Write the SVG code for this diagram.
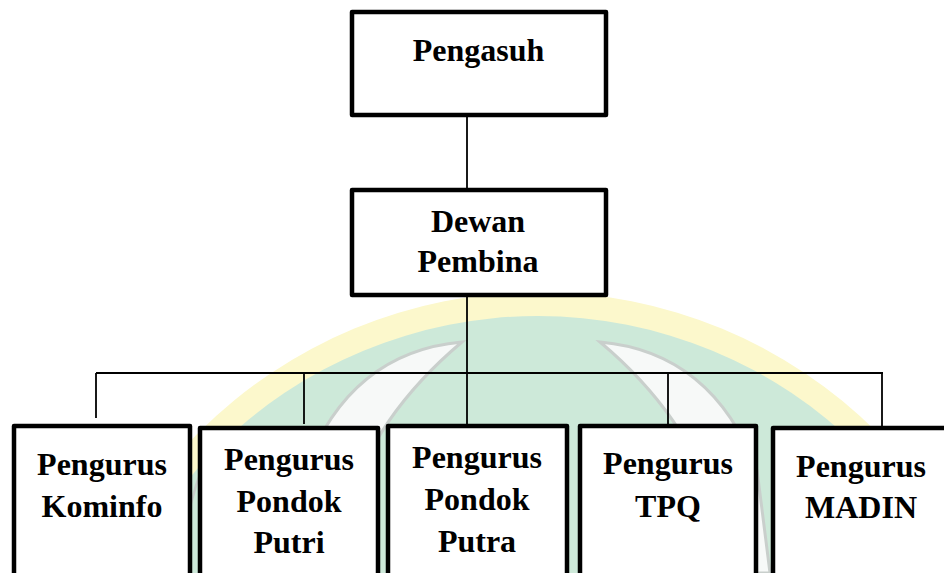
<svg xmlns="http://www.w3.org/2000/svg" width="944" height="573" viewBox="0 0 944 573">
<style>
.box{fill:#ffffff;stroke:#000000;stroke-width:4.5;stroke-linejoin:round}
.lbl{font-family:"Liberation Serif","Times New Roman",serif;font-weight:bold;font-size:32px;fill:#000000;text-anchor:middle}
.con{stroke:#000000;stroke-width:1.8;fill:none}
</style>
<rect x="0" y="0" width="944" height="573" fill="#ffffff"/>
<g id="watermark">
<circle cx="538" cy="772" r="480" fill="#fcf8cc"/>
<circle cx="538" cy="772" r="456" fill="#cde9d9"/>
<path d="M 462 342 Q 350 352 305 470 L 292 573 L 335 573 Q 345 440 462 342 Z" fill="#f7f9f8" stroke="#c9cfcc" stroke-width="3"/>
<path d="M 600 342 Q 712 352 757 470 L 770 573 L 727 573 Q 717 440 600 342 Z" fill="#f7f9f8" stroke="#c9cfcc" stroke-width="3"/>
<path d="M 205 460 A 436 436 0 0 0 178 573" fill="none" stroke="#c9cfcc" stroke-width="2.5"/>
<path d="M 902 460 A 436 436 0 0 1 932 573" fill="none" stroke="#c9cfcc" stroke-width="2.5"/>
</g>
<g id="connectors">
<line class="con" x1="467" y1="117" x2="467" y2="189"/>
<line class="con" x1="467" y1="297" x2="467" y2="425"/>
<line class="con" x1="96" y1="373" x2="883" y2="373"/>
<line class="con" x1="96" y1="373" x2="96" y2="418"/>
<line class="con" x1="304" y1="373" x2="304" y2="424"/>
<line class="con" x1="668" y1="373" x2="668" y2="425"/>
<line class="con" x1="882" y1="373" x2="882" y2="427"/>
</g>
<g id="pengasuh">
<rect class="box" x="352" y="12" width="254" height="103"/>
<text class="lbl" x="478.5" y="61">Pengasuh</text>
</g>
<g id="dewan-pembina">
<rect class="box" x="352" y="190" width="254" height="105"/>
<text class="lbl" x="478" y="232">Dewan</text>
<text class="lbl" x="478" y="272">Pembina</text>
</g>
<g id="pengurus-kominfo">
<rect class="box" x="14" y="426" width="176" height="200"/>
<text class="lbl" x="102" y="475">Pengurus</text>
<text class="lbl" x="102" y="517">Kominfo</text>
</g>
<g id="pengurus-pondok-putri">
<rect class="box" x="200" y="428" width="178" height="200"/>
<text class="lbl" x="289" y="470">Pengurus</text>
<text class="lbl" x="289" y="512">Pondok</text>
<text class="lbl" x="289" y="553">Putri</text>
</g>
<g id="pengurus-pondok-putra">
<rect class="box" x="388" y="426" width="179" height="200"/>
<text class="lbl" x="477" y="468">Pengurus</text>
<text class="lbl" x="477" y="510">Pondok</text>
<text class="lbl" x="477" y="552">Putra</text>
</g>
<g id="pengurus-tpq">
<rect class="box" x="580" y="426" width="176" height="200"/>
<text class="lbl" x="668" y="474">Pengurus</text>
<text class="lbl" x="668" y="517">TPQ</text>
</g>
<g id="pengurus-madin">
<rect class="box" x="773" y="428" width="180" height="200"/>
<text class="lbl" x="861" y="477">Pengurus</text>
<text class="lbl" x="861" y="518">MADIN</text>
</g>
</svg>
